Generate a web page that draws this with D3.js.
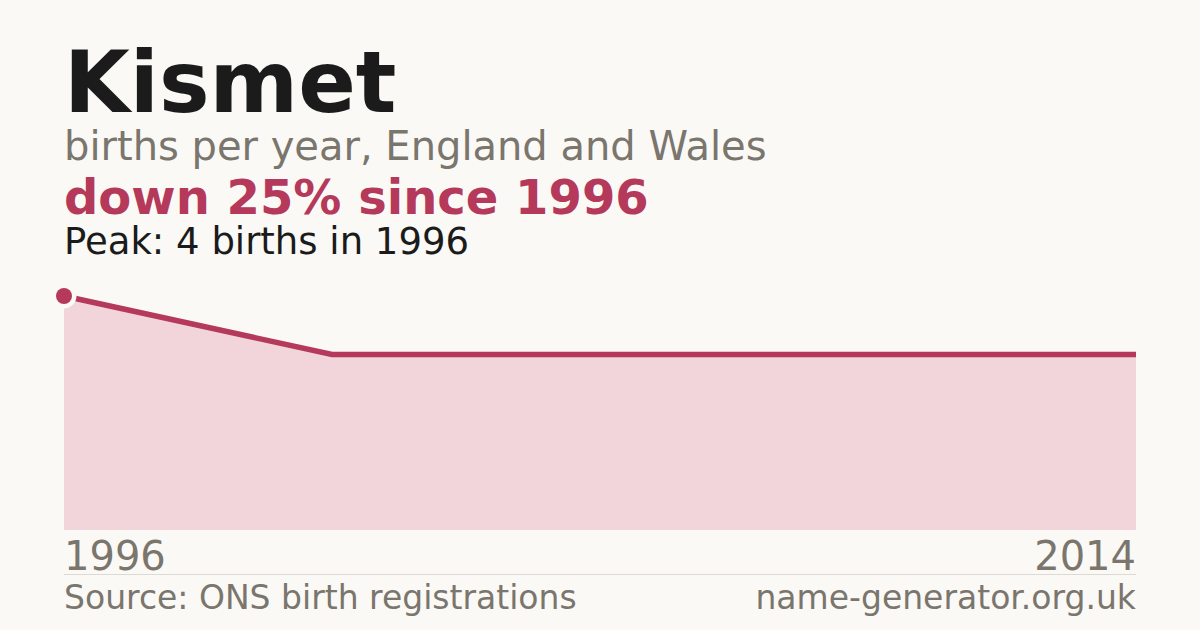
<!DOCTYPE html>
<html>
<head>
<meta charset="utf-8">
<script src="https://cdn.jsdelivr.net/npm/d3@7"></script>
<style>
  html, body { margin: 0; padding: 0; background: #faf9f5; }
  svg { display: block; }
  text { font-family: "DejaVu Sans", sans-serif; }
</style>
</head>
<body>
<div id="chart"></div>
<script>
const width = 1200;
const height = 630;

// data (only years with published counts)
const years = [1996, 2001, 2005, 2010, 2014];
const births = [4, 3, 3, 3, 3];
const tickYears = [1996, 2014];

const bg = "#faf9f5";
const accent = "#b5395a";
const areaFill = "#f1d5da";
const grey = "#7a756d";
const dark = "#1b1b1b";

const left = 64;
const right = 1136;
const baseY = 530;
const topY = 296;

const svg = d3.select("#chart")
    .append("svg")
    .attr("width", width)
    .attr("height", height);

svg.append("rect")
    .attr("width", width)
    .attr("height", height)
    .attr("fill", bg);

// heading block
svg.append("text")
    .attr("x", left).attr("y", 112)
    .attr("font-size", 85).attr("font-weight", "bold")
    .attr("fill", dark)
    .text("Kismet");

svg.append("text")
    .attr("x", left).attr("y", 160)
    .attr("font-size", 40)
    .attr("fill", grey)
    .text("births per year, England and Wales");

svg.append("text")
    .attr("x", left).attr("y", 214)
    .attr("font-size", 48).attr("font-weight", "bold")
    .attr("fill", accent)
    .text("down 25% since 1996");

svg.append("text")
    .attr("x", left).attr("y", 254)
    .attr("font-size", 37)
    .attr("fill", dark)
    .text("Peak: 4 births in 1996");

const data = years.map((y, i) => ({ year: y, value: births[i] }));

const x = d3.scalePoint()
    .domain(years)
    .range([left, right]);

const y = d3.scaleLinear()
    .domain([0, d3.max(births)])
    .range([baseY, topY]);

const area = d3.area()
    .x(d => x(d.year))
    .y0(baseY)
    .y1(d => y(d.value));

const line = d3.line()
    .x(d => x(d.year))
    .y(d => y(d.value));

svg.append("path")
    .datum(data)
    .attr("d", area)
    .attr("fill", areaFill);

svg.append("path")
    .datum(data)
    .attr("d", line)
    .attr("fill", "none")
    .attr("stroke", accent)
    .attr("stroke-width", 5.5);

// peak marker, with a halo in the background colour
const peak = data[d3.maxIndex(data, d => d.value)];
svg.append("circle")
    .attr("cx", x(peak.year)).attr("cy", y(peak.value))
    .attr("r", 12.5)
    .attr("fill", bg);
svg.append("circle")
    .attr("cx", x(peak.year)).attr("cy", y(peak.value))
    .attr("r", 8)
    .attr("fill", accent);

// year labels
svg.selectAll("text.tick")
    .data(tickYears)
    .enter()
    .append("text")
    .attr("class", "tick")
    .attr("x", d => x(d))
    .attr("y", 570)
    .attr("text-anchor", (d, i) => i === 0 ? "start" : "end")
    .attr("font-size", 40)
    .attr("fill", grey)
    .text(d => d);

svg.append("line")
    .attr("x1", left).attr("x2", right)
    .attr("y1", 574.5).attr("y2", 574.5)
    .attr("stroke", "#dedad2")
    .attr("stroke-width", 1);

svg.append("text")
    .attr("x", left).attr("y", 609)
    .attr("font-size", 33)
    .attr("fill", grey)
    .text("Source: ONS birth registrations");

svg.append("text")
    .attr("x", right).attr("y", 609)
    .attr("text-anchor", "end")
    .attr("font-size", 33)
    .attr("fill", grey)
    .text("name-generator.org.uk");
</script>
</body>
</html>
